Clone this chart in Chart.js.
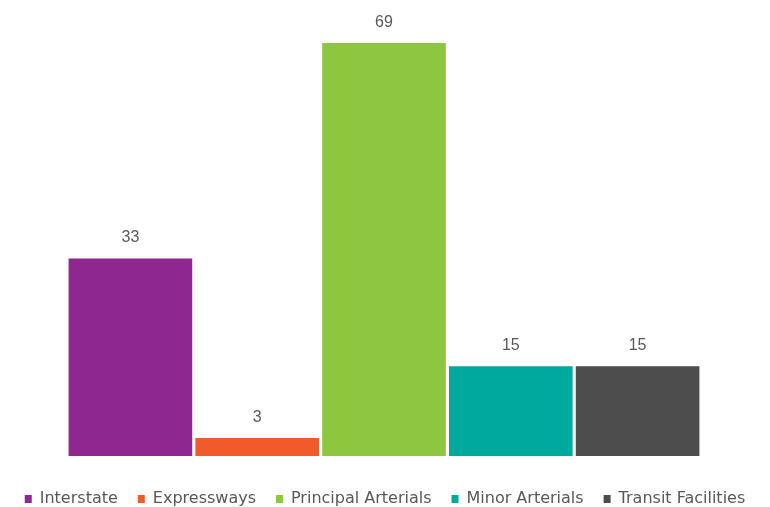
<!DOCTYPE html>
<html>
<head>
<meta charset="utf-8">
<script src="https://cdn.jsdelivr.net/npm/chart.js@4.4.0/dist/chart.umd.min.js"></script>
<style>
  html, body { margin: 0; padding: 0; background: #fff; }
  #wrap { width: 770px; height: 507px; position: relative; }
</style>
</head>
<body>
<div id="wrap"><canvas id="chart"></canvas></div>
<script>
// chart data
const categories = ["Interstate", "Expressways", "Principal Arterials", "Minor Arterials", "Transit Facilities"];
const values = [33, 3, 69, 15, 15];
const barColors = ["#8E278F", "#F15A29", "#8DC63F", "#00A99D", "#4D4D4D"];

// draws the number above each bar
const valueLabels = {
    id: 'valueLabels',
    afterDatasetsDraw(chart) {
        const ctx = chart.ctx;
        const meta = chart.getDatasetMeta(0);
        ctx.save();
        ctx.fillStyle = '#595959';
        ctx.font = '16px "Liberation Sans", Arial, sans-serif';
        ctx.textAlign = 'center';
        ctx.textBaseline = 'alphabetic';
        meta.data.forEach((bar, i) => {
            ctx.fillText(values[i], bar.x, bar.y - 16);
        });
        ctx.restore();
    }
};

// invisible axes just to leave room around the bars
const blankAxis = {
    display: true,
    ticks: { display: false },
    grid: { display: false },
    border: { display: false }
};

new Chart(document.getElementById("chart"), {
    type: 'bar',
    data: {
        labels: categories,
        datasets: [{
            data: values,
            backgroundColor: barColors,
            categoryPercentage: 1,
            barPercentage: 0.975
        }]
    },
    options: {
        responsive: true,
        maintainAspectRatio: false,
        animation: false,
        layout: {
            // legend box is taller than the space left, let it hang off the bottom
            padding: { top: 7, left: 0, right: 0, bottom: -10 }
        },
        scales: {
            x: { ...blankAxis, afterFit: (s) => { s.height = 15; } },
            y: { ...blankAxis, position: 'left', min: 0, max: 75, afterFit: (s) => { s.width = 67; } },
            y2: { ...blankAxis, position: 'right', min: 0, max: 75, afterFit: (s) => { s.width = 69; } }
        },
        plugins: {
            tooltip: { enabled: false },
            legend: {
                position: 'bottom',
                labels: {
                    boxWidth: 7,
                    boxHeight: 8,
                    padding: 20,
                    color: '#595959',
                    font: { family: '"DejaVu Sans", sans-serif', size: 16 },
                    generateLabels: (chart) => categories.map((c, i) => ({
                        text: c,
                        fillStyle: barColors[i],
                        strokeStyle: barColors[i],
                        fontColor: '#595959',
                        lineWidth: 0,
                        hidden: false,
                        index: i
                    }))
                }
            }
        }
    },
    plugins: [valueLabels]
});
</script>
</body>
</html>
